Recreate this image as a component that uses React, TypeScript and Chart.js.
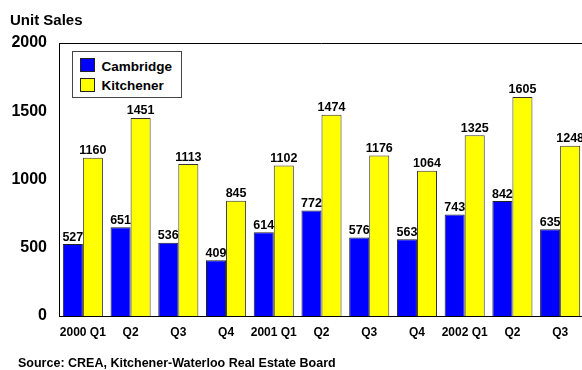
import React, { useEffect, useRef } from "react";
import { Chart, registerables } from "chart.js";

Chart.register(...registerables);

const categories = ["2000 Q1", "Q2", "Q3", "Q4", "2001 Q1", "Q2", "Q3", "Q4", "2002 Q1", "Q2", "Q3"];
const cambridge = [527, 651, 536, 409, 614, 772, 576, 563, 743, 842, 635];
const kitchener = [1160, 1451, 1113, 845, 1102, 1474, 1176, 1064, 1325, 1605, 1248];
const yMin = 0;
const yMax = 2000;
const yStep = 500;
const seriesNames = ["Cambridge", "Kitchener"];
const seriesColors = ["#0000FF", "#FFFF00"];
const yAxisTitle = "Unit Sales";
const sourceNote = "Source: CREA, Kitchener-Waterloo Real Estate Board";

const FONT = "'Liberation Sans', Arial, Helvetica, sans-serif";

const framePlugin = {
  id: "frameTop",
  afterDraw(chart: any) {
    const { ctx, chartArea } = chart;
    ctx.save();
    ctx.strokeStyle = "#000";
    ctx.lineWidth = 1;
    ctx.beginPath();
    ctx.moveTo(chartArea.left, Math.round(chartArea.top) + 0.5);
    ctx.lineTo(chartArea.right, Math.round(chartArea.top) + 0.5);
    ctx.stroke();
    ctx.restore();
  },
};

const valueLabelPlugin = {
  id: "valueLabels",
  afterDatasetsDraw(chart: any) {
    const { ctx } = chart;
    ctx.save();
    ctx.font = `bold 12.5px ${FONT}`;
    ctx.fillStyle = "#000";
    ctx.textAlign = "center";
    ctx.textBaseline = "alphabetic";
    chart.data.datasets.forEach((ds: any, di: number) => {
      const meta = chart.getDatasetMeta(di);
      meta.data.forEach((bar: any, i: number) => {
        ctx.fillText(String(ds.data[i]), bar.x, bar.y - 3.5);
      });
    });
    ctx.restore();
  },
};

export default function App() {
  const canvasRef = useRef<HTMLCanvasElement | null>(null);

  useEffect(() => {
    if (!canvasRef.current) return;
    const chart = new Chart(canvasRef.current, {
      type: "bar",
      data: {
        labels: categories,
        datasets: [
          {
            label: seriesNames[0],
            data: cambridge,
            backgroundColor: seriesColors[0],
            borderColor: "#222",
            borderWidth: 1,
            categoryPercentage: 0.84,
            barPercentage: 1.0,
          },
          {
            label: seriesNames[1],
            data: kitchener,
            backgroundColor: seriesColors[1],
            borderColor: "#333",
            borderWidth: 1,
            categoryPercentage: 0.84,
            barPercentage: 1.0,
          },
        ],
      },
      options: {
        animation: false,
        responsive: true,
        maintainAspectRatio: false,
        layout: { padding: { top: 43, left: 0, right: 0, bottom: 0 } },
        plugins: {
          legend: { display: false },
          tooltip: { enabled: false },
          title: { display: false },
        },
        scales: {
          x: {
            grid: { display: false, drawTicks: false },
            border: { display: true, color: "#000", width: 1 },
            ticks: {
              color: "#000",
              font: { family: FONT, size: 12, weight: "bold" },
              padding: 9,
              autoSkip: false,
              maxRotation: 0,
              minRotation: 0,
            },
            afterFit: (scale: any) => {
              scale.height = 54;
            },
          },
          y: {
            min: yMin,
            max: yMax,
            grid: { display: false, drawTicks: false },
            border: { display: true, color: "#000", width: 1 },
            ticks: {
              stepSize: yStep,
              color: "#000",
              font: { family: FONT, size: 16, weight: "bold" },
              padding: 12,
              callback: (v: any) => String(v),
            },
            afterFit: (scale: any) => {
              scale.width = 59;
            },
          },
        },
      },
      plugins: [framePlugin, valueLabelPlugin],
    });
    return () => chart.destroy();
  }, []);

  return (
    <div
      style={{
        position: "fixed",
        left: 0,
        top: 0,
        width: 582,
        height: 370,
        overflow: "hidden",
        background: "#fff",
        fontFamily: FONT,
      }}
    >
      <div style={{ position: "absolute", left: 0, top: 0, width: 584, height: 370 }}>
        <canvas ref={canvasRef} />
      </div>
      <div
        style={{
          position: "absolute",
          left: 10,
          top: 12,
          fontSize: 15,
          lineHeight: 1,
          fontWeight: "bold",
          color: "#000",
          whiteSpace: "nowrap",
        }}
      >
        {yAxisTitle}
      </div>
      <div
        style={{
          position: "absolute",
          left: 72,
          top: 51,
          width: 110,
          height: 47,
          boxSizing: "border-box",
          border: "1px solid #444",
          background: "#fff",
        }}
      />
      {seriesNames.map((name, i) => (
        <React.Fragment key={name}>
          <div
            style={{
              position: "absolute",
              left: 80,
              top: 58 + i * 19.5,
              width: 15,
              height: 14,
              boxSizing: "border-box",
              border: "1px solid #222",
              background: seriesColors[i],
            }}
          />
          <div
            style={{
              position: "absolute",
              left: 101.5,
              top: 60 + i * 19,
              fontSize: 13.5,
              lineHeight: 1,
              fontWeight: "bold",
              color: "#000",
              whiteSpace: "nowrap",
            }}
          >
            {name}
          </div>
        </React.Fragment>
      ))}
      <div
        style={{
          position: "absolute",
          left: 18,
          top: 356.5,
          fontSize: 12.5,
          lineHeight: 1,
          fontWeight: "bold",
          color: "#000",
          whiteSpace: "nowrap",
        }}
      >
        {sourceNote}
      </div>
    </div>
  );
}
